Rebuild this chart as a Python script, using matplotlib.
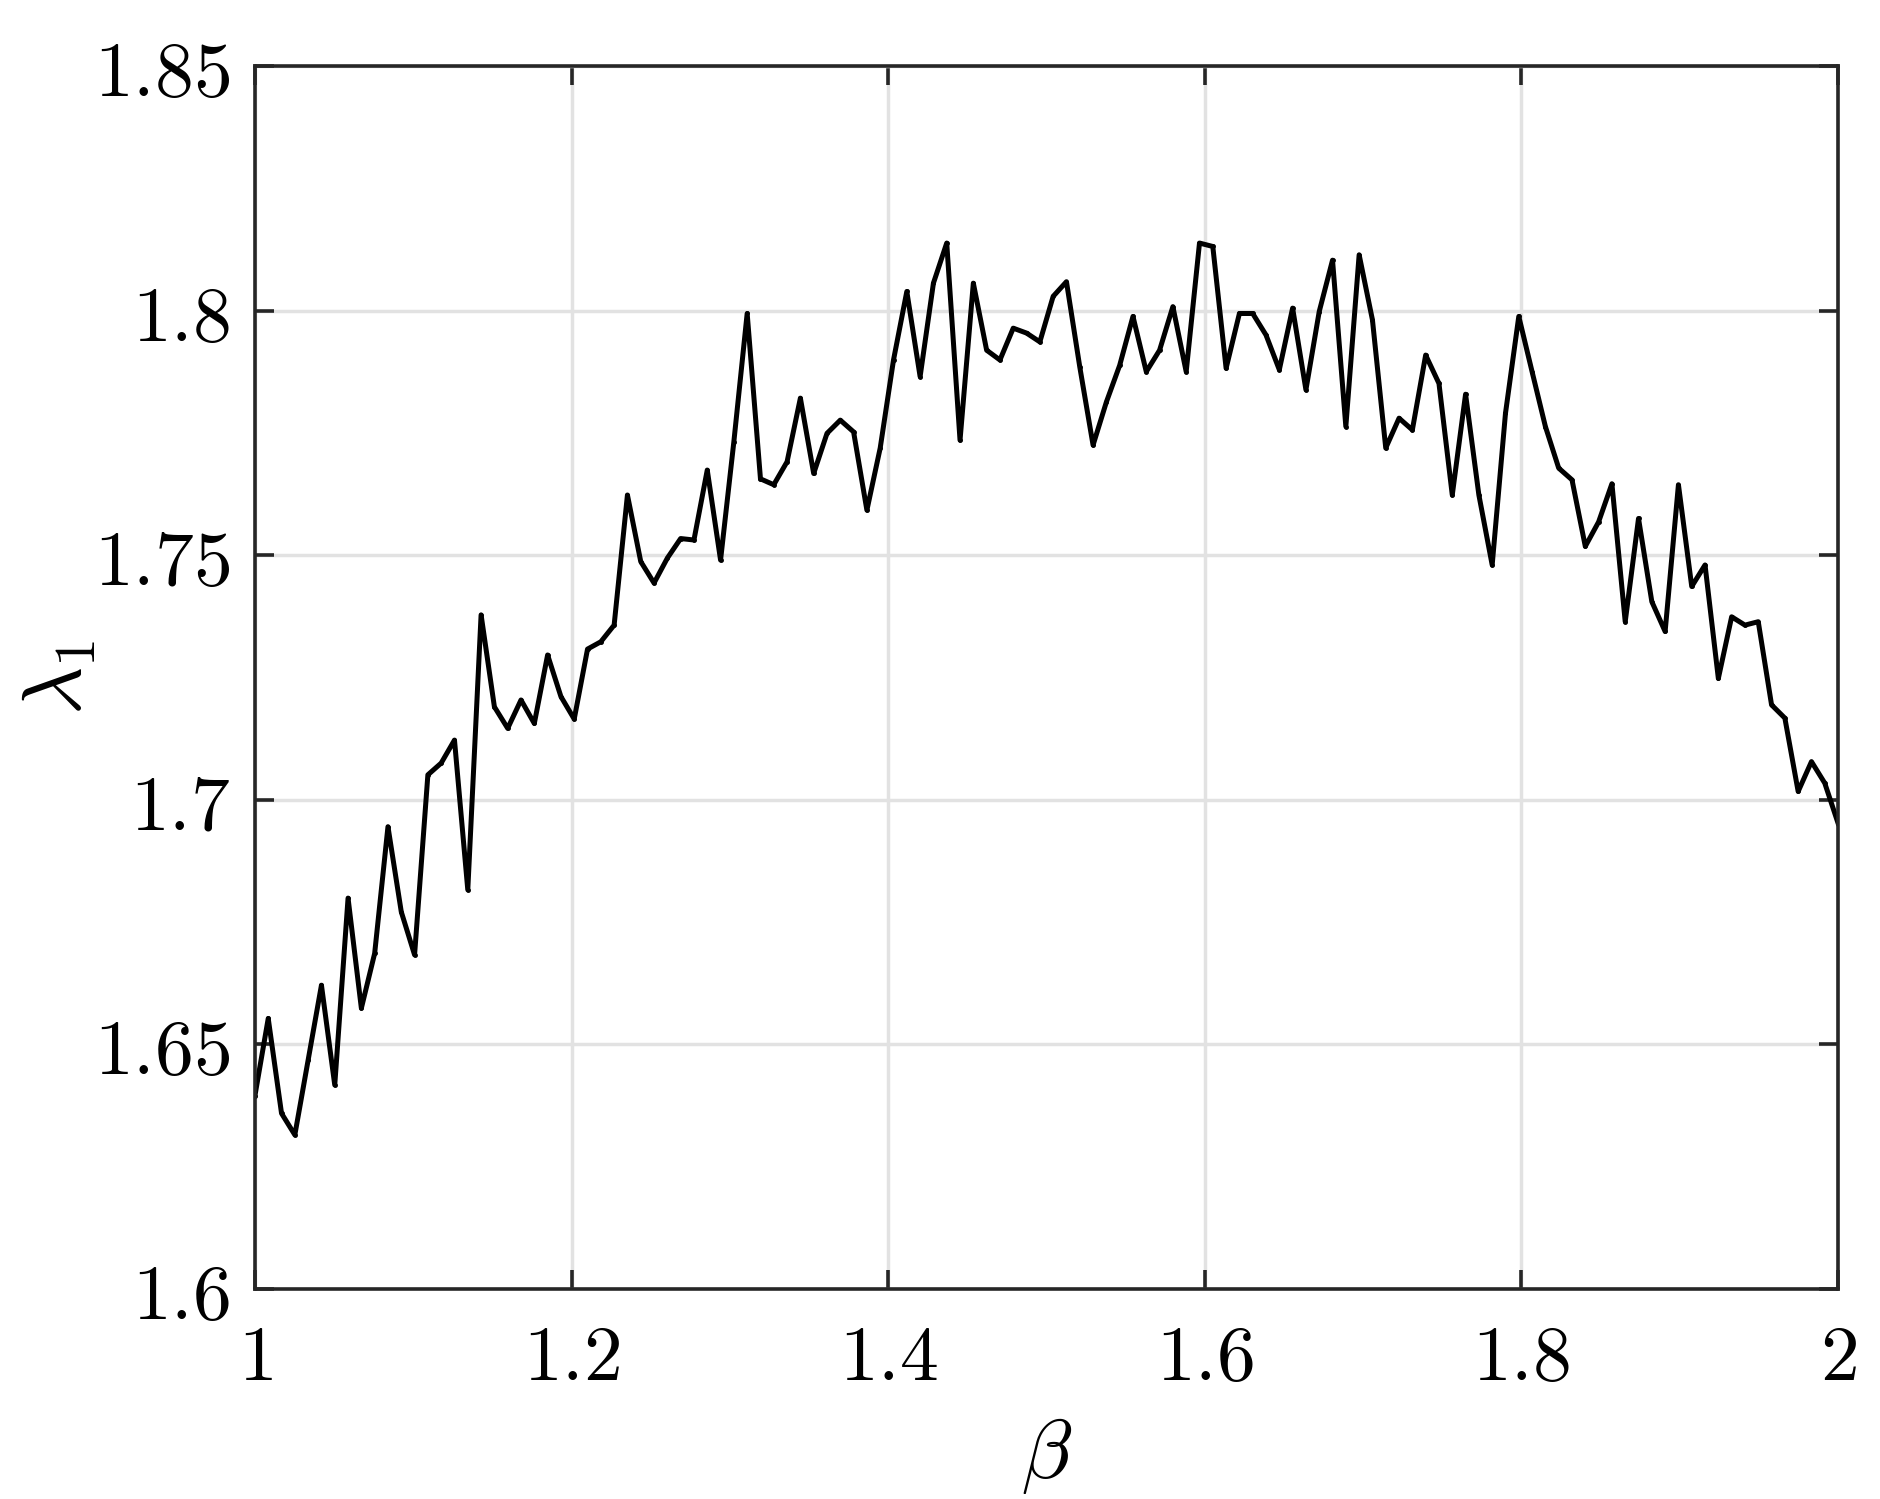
import matplotlib
matplotlib.use("Agg")
import matplotlib.pyplot as plt
import matplotlib.ticker as ticker
import numpy as np

# beta grid: 120 evenly spaced samples on [1, 2]
beta = np.linspace(1.0, 2.0, 120)

# lambda_1 values, one per beta sample
lam1 = [
    1.6395, 1.6553, 1.6359, 1.6315, 1.6468, 1.6621, 1.6417, 1.6799, 1.6574, 1.6686,
    1.6945, 1.6771, 1.6683, 1.7051, 1.7075, 1.7122, 1.6816, 1.7378, 1.7190, 1.7146,
    1.7204, 1.7156, 1.7296, 1.7211, 1.7165, 1.7308, 1.7323, 1.7357, 1.7623, 1.7487,
    1.7443, 1.7494, 1.7534, 1.7531, 1.7674, 1.7490, 1.7732, 1.7994, 1.7656, 1.7644,
    1.7691, 1.7821, 1.7667, 1.7749, 1.7776, 1.7752, 1.7592, 1.7719, 1.7899, 1.8039,
    1.7865, 1.8056, 1.8138, 1.7735, 1.8056, 1.7919, 1.7899, 1.7964, 1.7954, 1.7936,
    1.8029, 1.8059, 1.7885, 1.7725, 1.7813, 1.7888, 1.7988, 1.7875, 1.7919, 1.8008,
    1.7875, 1.8138, 1.8131, 1.7882, 1.7994, 1.7994, 1.7950, 1.7879, 1.8005, 1.7838,
    1.7998, 1.8103, 1.7763, 1.8114, 1.7981, 1.7719, 1.7780, 1.7756, 1.7909, 1.7851,
    1.7623, 1.7829, 1.7623, 1.7480, 1.7790, 1.7988, 1.7875, 1.7763, 1.7678, 1.7654,
    1.7518, 1.7568, 1.7646, 1.7364, 1.7575, 1.7405, 1.7344, 1.7644, 1.7436, 1.7480,
    1.7248, 1.7374, 1.7357, 1.7364, 1.7194, 1.7167, 1.7017, 1.7078, 1.7034, 1.6952,
]

xticks = [1.0, 1.2, 1.4, 1.6, 1.8, 2.0]
yticks = [1.6, 1.65, 1.7, 1.75, 1.8, 1.85]

plt.rcParams['mathtext.fontset'] = 'cm'

fig = plt.figure(figsize=(18.8, 14.99), dpi=100)
ax = fig.add_axes([0.1356, 0.1401, 0.9777 - 0.1356, 0.956 - 0.1401])

ax.plot(beta, lam1, color='black', lw=3.6, marker='.', markersize=5)

ax.set_xlim(1, 2)
ax.set_ylim(1.6, 1.85)
ax.set_xticks(xticks)
ax.set_yticks(yticks)
fmt = ticker.FuncFormatter(lambda v, p: '$%g$' % v)
ax.xaxis.set_major_formatter(fmt)
ax.yaxis.set_major_formatter(fmt)

ax.grid(True, color='#e2e2e2', lw=2.5)
ax.set_axisbelow(True)
for s in ax.spines.values():
    s.set_linewidth(2.6)
    s.set_color('#262626')
ax.tick_params(direction='in', length=14, width=2.6, color='#262626',
               labelsize=56, top=True, right=True)
ax.tick_params(axis='x', pad=22)
ax.tick_params(axis='y', pad=18)

ax.set_xlabel(r'$\beta$', fontsize=60, labelpad=14)
ax.set_ylabel(r'$\lambda_1$', fontsize=60, labelpad=-4)

fig.savefig('out.png', dpi=100)
